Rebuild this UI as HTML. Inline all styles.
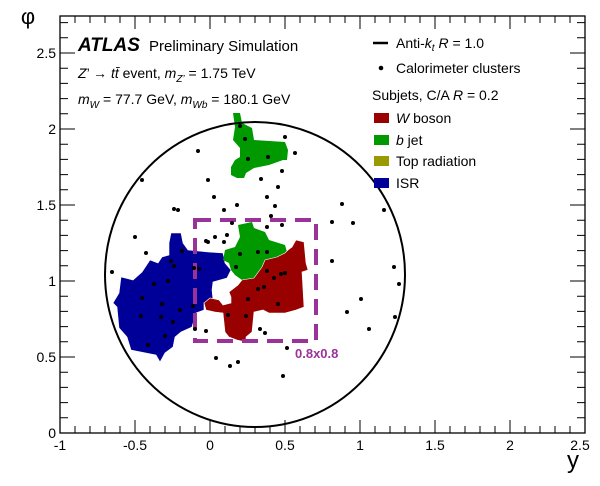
<!DOCTYPE html>
<html><head><meta charset="utf-8"><style>
html,body{margin:0;padding:0;background:#fff;}
svg{display:block;font-family:"Liberation Sans",sans-serif;}
</style></head><body>
<svg width="600" height="486" viewBox="0 0 600 486" xmlns="http://www.w3.org/2000/svg">
<rect width="600" height="486" fill="#fff"/>
<!-- blobs -->
<polygon fill="#000099" stroke="#fff" stroke-width="0.6" points="171,233 181,233 183,243 188,250 208,252 223,253 225,263 231,270 227,278 213,282 212,290 213,300 204,303 204,310 196,313 192,327 181,332 175,337 173,347 165,353 160,362 156,355 146,353 131,350 127,337 119,328 117,307 113,303 119,293 121,277 133,280 142,272 150,260 158,263 162,257 169,255 169,243"/>
<polygon fill="#009900" points="238,225 252,222 254,228 265,232 269,240 285,245 287,252 277,257 265,260 262,267 254,278 242,280 235,275 231,270 229,263 223,260 225,250 235,247 240,237"/>
<polygon fill="#990000" stroke="#fff" stroke-width="0.6" points="296,240 304,242 306,263 308,270 302,272 304,307 296,310 285,313 269,313 263,310 254,312 252,332 246,337 246,342 237,340 229,337 225,332 223,313 215,312 206,310 204,303 210,298 219,300 223,305 231,303 231,297 229,292 238,285 242,280 254,278 262,267 265,260 277,257 285,253 288,250 292,247"/>
<polygon fill="#009900" points="233,113 240,113 242,123 252,128 254,140 285,142 288,150 287,160 283,160 269,165 254,168 246,173 244,178 237,178 231,175 231,167 235,160 240,157 240,148 233,140 235,127"/>
<!-- circle -->
<ellipse cx="255" cy="274.5" rx="150" ry="152.5" fill="none" stroke="#000" stroke-width="2"/>
<!-- dashed box -->
<rect x="195" y="220" width="121" height="121" fill="none" stroke="#993399" stroke-width="4" stroke-dasharray="16,9"/>
<text x="295" y="358" font-size="13" font-weight="bold" fill="#993399">0.8x0.8</text>
<!-- dots -->
<g fill="#000">
<circle cx="240" cy="126" r="2"/><circle cx="245" cy="139" r="2"/><circle cx="198" cy="151" r="2"/><circle cx="285" cy="137" r="2"/><circle cx="295" cy="153" r="2"/><circle cx="248" cy="159" r="2"/><circle cx="268" cy="157" r="2"/><circle cx="282" cy="171" r="2"/><circle cx="142" cy="180" r="2"/><circle cx="208" cy="180" r="2"/><circle cx="261" cy="179" r="2"/><circle cx="278" cy="187" r="2"/><circle cx="214" cy="197" r="2"/><circle cx="267" cy="197" r="2"/>
<circle cx="174" cy="209" r="2"/><circle cx="178" cy="210" r="2"/><circle cx="224" cy="210" r="2"/><circle cx="237" cy="205" r="2"/><circle cx="275" cy="206" r="2"/><circle cx="342" cy="204" r="2"/><circle cx="384" cy="210" r="2"/><circle cx="232" cy="223" r="2"/><circle cx="271" cy="216" r="2"/><circle cx="267" cy="227" r="2"/><circle cx="282" cy="225" r="2"/><circle cx="332" cy="222" r="2"/><circle cx="353" cy="223" r="2"/><circle cx="135" cy="237" r="2"/><circle cx="206" cy="241" r="2"/><circle cx="208" cy="242" r="2"/><circle cx="215" cy="237" r="2"/><circle cx="224" cy="242" r="2"/><circle cx="227" cy="235" r="2"/><circle cx="146" cy="253" r="2"/><circle cx="182" cy="251" r="2"/><circle cx="240" cy="254" r="2"/><circle cx="258" cy="252" r="2"/><circle cx="267" cy="252" r="2"/><circle cx="171" cy="261" r="2"/><circle cx="174" cy="266" r="2"/><circle cx="194" cy="268" r="2"/><circle cx="199" cy="269" r="2"/><circle cx="236" cy="267" r="2"/><circle cx="332" cy="261" r="2"/><circle cx="112" cy="272" r="2"/><circle cx="267" cy="271" r="2"/><circle cx="285" cy="273" r="2"/><circle cx="281" cy="274" r="2"/><circle cx="274" cy="278" r="2"/><circle cx="168" cy="281" r="2"/><circle cx="154" cy="284" r="2"/><circle cx="394" cy="267" r="2"/><circle cx="399" cy="284" r="2"/><circle cx="258" cy="289" r="2"/><circle cx="264" cy="287" r="2"/><circle cx="142" cy="298" r="2"/><circle cx="248" cy="299" r="2"/><circle cx="162" cy="304" r="2"/><circle cx="278" cy="304" r="2"/><circle cx="180" cy="310" r="2"/><circle cx="361" cy="299" r="2"/><circle cx="193" cy="306" r="2"/><circle cx="141" cy="316" r="2"/><circle cx="161" cy="317" r="2"/><circle cx="228" cy="315" r="2"/><circle cx="246" cy="316" r="2"/><circle cx="173" cy="322" r="2"/><circle cx="195" cy="329" r="2"/><circle cx="206" cy="331" r="2"/><circle cx="260" cy="329" r="2"/><circle cx="265" cy="333" r="2"/><circle cx="347" cy="312" r="2"/><circle cx="369" cy="329" r="2"/><circle cx="395" cy="317" r="2"/><circle cx="165" cy="336" r="2"/><circle cx="148" cy="345" r="2"/><circle cx="287" cy="348" r="2"/><circle cx="216" cy="358" r="2"/><circle cx="238" cy="362" r="2"/><circle cx="230" cy="366" r="2"/><circle cx="283" cy="376" r="2"/>
</g>
<!-- frame -->
<rect x="60" y="16" width="525" height="417" fill="none" stroke="#000" stroke-width="1.3"/>
<g stroke="#000" stroke-width="1">
<path d="M60,433v-13M75,433v-7M90,433v-7M105,433v-7M120,433v-7M135,433v-13M150,433v-7M165,433v-7M180,433v-7M195,433v-7M210,433v-13M225,433v-7M240,433v-7M255,433v-7M270,433v-7M285,433v-13M300,433v-7M315,433v-7M330,433v-7M345,433v-7M360,433v-13M375,433v-7M390,433v-7M405,433v-7M420,433v-7M435,433v-13M450,433v-7M465,433v-7M480,433v-7M495,433v-7M510,433v-13M525,433v-7M540,433v-7M555,433v-7M570,433v-7M585,433v-13"/>
<path d="M60,16v13M75,16v7M90,16v7M105,16v7M120,16v7M135,16v13M150,16v7M165,16v7M180,16v7M195,16v7M210,16v13M225,16v7M240,16v7M255,16v7M270,16v7M285,16v13M300,16v7M315,16v7M330,16v7M345,16v7M360,16v13M375,16v7M390,16v7M405,16v7M420,16v7M435,16v13M450,16v7M465,16v7M480,16v7M495,16v7M510,16v13M525,16v7M540,16v7M555,16v7M570,16v7M585,16v13"/>
<path d="M60,433h15M60,417.8h8M60,402.6h8M60,387.4h8M60,372.2h8M60,357h15M60,341.8h8M60,326.6h8M60,311.4h8M60,296.2h8M60,281h15M60,265.8h8M60,250.6h8M60,235.4h8M60,220.2h8M60,205h15M60,189.8h8M60,174.6h8M60,159.4h8M60,144.2h8M60,129h15M60,113.8h8M60,98.6h8M60,83.4h8M60,68.2h8M60,53h15M60,37.8h8M60,22.6h8"/>
<path d="M585,433h-15M585,417.8h-8M585,402.6h-8M585,387.4h-8M585,372.2h-8M585,357h-15M585,341.8h-8M585,326.6h-8M585,311.4h-8M585,296.2h-8M585,281h-15M585,265.8h-8M585,250.6h-8M585,235.4h-8M585,220.2h-8M585,205h-15M585,189.8h-8M585,174.6h-8M585,159.4h-8M585,144.2h-8M585,129h-15M585,113.8h-8M585,98.6h-8M585,83.4h-8M585,68.2h-8M585,53h-15M585,37.8h-8M585,22.6h-8"/>
</g>
<!-- tick labels -->
<g font-size="14" fill="#000" text-anchor="middle">
<text x="60" y="450">-1</text><text x="135" y="450">-0.5</text><text x="210" y="450">0</text><text x="285" y="450">0.5</text><text x="360" y="450">1</text><text x="435" y="450">1.5</text><text x="510" y="450">2</text><text x="580" y="450">2.5</text>
</g>
<g font-size="14" fill="#000" text-anchor="end">
<text x="56" y="438">0</text><text x="56" y="362">0.5</text><text x="56" y="286">1</text><text x="56" y="210">1.5</text><text x="56" y="134">2</text><text x="56" y="58">2.5</text>
</g>
<text x="573" y="468" font-size="24" text-anchor="middle">y</text>
<text x="28" y="24" font-size="22" text-anchor="middle">φ</text>
<!-- annotations -->
<text x="78" y="51" font-size="19" font-weight="bold" font-style="italic">ATLAS</text>
<text x="149" y="51" font-size="15">Preliminary Simulation</text>
<text x="78" y="78" font-size="14"><tspan font-style="italic">Z</tspan>’ → <tspan font-style="italic">tt̄</tspan> event, <tspan font-style="italic">m</tspan><tspan font-size="10" dy="4"><tspan font-style="italic">Z’</tspan></tspan><tspan dy="-4"> = 1.75 TeV</tspan></text>
<text x="78" y="104" font-size="14"><tspan font-style="italic">m</tspan><tspan font-size="10" dy="4" font-style="italic">W</tspan><tspan dy="-4"> = 77.7 GeV, </tspan><tspan font-style="italic">m</tspan><tspan font-size="10" dy="4" font-style="italic">Wb</tspan><tspan dy="-4"> = 180.1 GeV</tspan></text>
<!-- legend -->
<line x1="373" y1="43" x2="388" y2="43" stroke="#000" stroke-width="2.5"/>
<text x="396" y="48" font-size="14">Anti-<tspan font-style="italic">k</tspan><tspan font-size="10" dy="3" font-style="italic">t</tspan><tspan dy="-3"> </tspan><tspan font-style="italic">R</tspan> = 1.0</text>
<circle cx="381" cy="68" r="2.3" fill="#000"/>
<text x="396" y="73" font-size="14">Calorimeter clusters</text>
<text x="372" y="100" font-size="14">Subjets, C/A <tspan font-style="italic">R</tspan> = 0.2</text>
<rect x="374" y="113" width="15" height="10" fill="#990000"/>
<text x="396" y="123" font-size="14"><tspan font-style="italic">W</tspan> boson</text>
<rect x="374" y="135" width="15" height="10" fill="#009900"/>
<text x="396" y="145" font-size="14"><tspan font-style="italic">b</tspan> jet</text>
<rect x="374" y="156" width="15" height="10" fill="#999900"/>
<text x="396" y="166" font-size="14">Top radiation</text>
<rect x="374" y="178" width="15" height="10" fill="#000099"/>
<text x="396" y="188" font-size="14">ISR</text>
</svg>
</body></html>
